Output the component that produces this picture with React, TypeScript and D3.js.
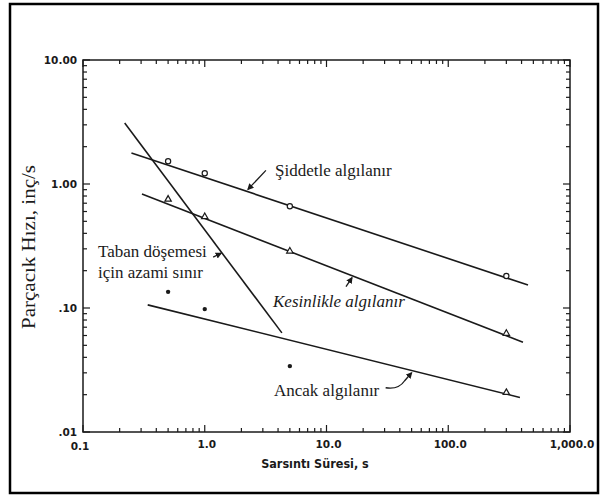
import React from 'react';
import * as d3 from 'd3';

const W = 608;
const H = 497;

// duration (s) of the measured points
const durations = [0.5, 1, 5, 300];

// "Şiddetle algılanır" – fitted line end points and measured points
const strongLineX = [0.25, 452];
const strongLineY = [1.78, 0.153];
const strongPts = [1.5, 1.2, 0.65, 0.178];

// "Kesinlikle algılanır"
const definiteLineX = [0.305, 411];
const definiteLineY = [0.83, 0.053];
const definitePts = [0.76, 0.55, 0.29, 0.063];

// "Ancak algılanır"
const barelyLineX = [0.34, 388];
const barelyLineY = [0.106, 0.019];
const barelyDotX = [0.5, 1, 5];
const barelyDots = [0.135, 0.098, 0.034];
const barelyTriX = [300];
const barelyTri = [0.021];

// "Taban döşemesi için azami sınır"
const floorLineX = [0.22, 4.3];
const floorLineY = [3.1, 0.063];

const xTickLabels = ['0.1', '1.0', '10.0', '100.0', '1,000.0'];
const yTickLabels = ['.01', '.10', '1.00', '10.00'];

const serif = "'Liberation Serif', 'Times New Roman', serif";
const sans = "'DejaVu Sans', sans-serif";
const ink = '#1a1a1a';

export default function App() {
  const x = d3.scaleLog().domain([0.1, 1000]).range([83, 570]);
  const y = d3.scaleLog().domain([0.01, 10]).range([432, 60]);

  const line = d3.line<[number, number]>().x(d => x(d[0])).y(d => y(d[1]));
  const seg = (xs: number[], ys: number[]) => line(xs.map((v, i) => [v, ys[i]]) as [number, number][]) || '';

  // point on a straight (log-log) line at duration t
  const onLine = (xs: number[], ys: number[], t: number) => {
    const f = (Math.log10(t) - Math.log10(xs[0])) / (Math.log10(xs[1]) - Math.log10(xs[0]));
    const ly = Math.log10(ys[0]) + f * (Math.log10(ys[1]) - Math.log10(ys[0]));
    return [x(t), y(Math.pow(10, ly))];
  };

  const xTicks = x.ticks();
  const yTicks = y.ticks();
  const isMajor = (v: number) => Math.abs(Math.log10(v) - Math.round(Math.log10(v))) < 1e-6;
  const majors = [0.1, 1, 10, 100, 1000];
  const yMajors = [0.01, 0.1, 1, 10];

  const [x0, x1] = x.range();
  const [y0, y1] = y.range();

  const tri = (cx: number, cy: number) => {
    const s = 3.2;
    return `M${cx},${cy - s} L${cx + s},${cy + s * 0.75} L${cx - s},${cy + s * 0.75} Z`;
  };

  const sidA = onLine(strongLineX, strongLineY, 2.22);
  const kesA = onLine(definiteLineX, definiteLineY, 16.2);
  const ancA = onLine(barelyLineX, barelyLineY, 51);
  const tabA = onLine(floorLineX, floorLineY, 1.39);

  return (
    <div style={{ position: 'fixed', left: 0, top: 0 }}>
      <svg width={W} height={H} style={{ display: 'block', background: '#fff' }}>
        <defs>
          <marker id="ah" viewBox="0 0 6 6" refX="5" refY="3" markerWidth="5" markerHeight="5" orient="auto">
            <path d="M0,0 L6,3 L0,6 Z" fill={ink} />
          </marker>
        </defs>
        <rect x={10} y={4} width={588} height={489} fill="#fff" stroke="#000" strokeWidth={2.5} />

        {/* frame */}
        <rect x={x0} y={y1} width={x1 - x0} height={y0 - y1} fill="none" stroke={ink} strokeWidth={1.5} />

        {/* ticks on all four sides, pointing inward */}
        {xTicks.map((t, i) => {
          const len = isMajor(t) ? 7 : 4;
          return (
            <g key={'xt' + i} stroke={ink} strokeWidth={1.2}>
              <line x1={x(t)} x2={x(t)} y1={y0} y2={y0 - len} />
              <line x1={x(t)} x2={x(t)} y1={y1} y2={y1 + len} />
            </g>
          );
        })}
        {yTicks.map((t, i) => {
          const len = isMajor(t) ? 7 : 4;
          return (
            <g key={'yt' + i} stroke={ink} strokeWidth={1.2}>
              <line x1={x0} x2={x0 + len} y1={y(t)} y2={y(t)} />
              <line x1={x1} x2={x1 - len} y1={y(t)} y2={y(t)} />
            </g>
          );
        })}

        {/* tick labels */}
        {majors.map((t, i) => (
          <text key={'xl' + i} x={i === 0 ? x(t) - 3 : x(t) + 2} y={i === 0 ? 450 : 448} textAnchor="middle"
            fontFamily={sans} fontWeight="bold" fontSize={10.5} fill={ink}>{xTickLabels[i]}</text>
        ))}
        {yMajors.map((t, i) => (
          <text key={'yl' + i} x={77} y={y(t) + 4} textAnchor="end"
            fontFamily={sans} fontWeight="bold" fontSize={10.5} fill={ink}>{yTickLabels[i]}</text>
        ))}

        {/* axis titles */}
        <text x={315} y={468} textAnchor="middle" fontFamily="'DejaVu Sans Condensed', 'DejaVu Sans', sans-serif"
          fontStretch="condensed" fontWeight="bold" fontSize={12.5} fill={ink}>Sarsıntı Süresi, s</text>
        <text transform="translate(35,247) rotate(-90)" textAnchor="middle" fontFamily={serif}
          fontSize={18} textLength={164} lengthAdjust="spacingAndGlyphs" fill={ink}>Parçacık Hızı, inç/s</text>

        {/* fitted lines */}
        <g fill="none" stroke={ink} strokeWidth={1.6}>
          <path d={seg(strongLineX, strongLineY)} />
          <path d={seg(definiteLineX, definiteLineY)} />
          <path d={seg(barelyLineX, barelyLineY)} />
          <path d={seg(floorLineX, floorLineY)} />
        </g>

        {/* measured points */}
        {durations.map((d, i) => (
          <circle key={'sp' + i} cx={x(d)} cy={y(strongPts[i]) - 1} r={2.6} fill="#fff" stroke={ink} strokeWidth={1.2} />
        ))}
        {durations.map((d, i) => (
          <path key={'dp' + i} d={tri(x(d), y(definitePts[i]))} fill="#fff" stroke={ink} strokeWidth={1.2} />
        ))}
        {barelyTriX.map((d, i) => (
          <path key={'bt' + i} d={tri(x(d), y(barelyTri[i]))} fill="#fff" stroke={ink} strokeWidth={1.2} />
        ))}
        {barelyDotX.map((d, i) => (
          <circle key={'bd' + i} cx={x(d)} cy={y(barelyDots[i])} r={2.2} fill={ink} />
        ))}

        {/* annotations */}
        <g fontFamily={serif} fontSize={17} fill={ink}>
          <text x={275} y={176}>Şiddetle algılanır</text>
          <text x={273} y={307} fontStyle="italic">Kesinlikle algılanır</text>
          <text x={274} y={396}>Ancak algılanır</text>
          <text x={98} y={257}>Taban döşemesi</text>
          <text x={98} y={278}>için azami sınır</text>
        </g>
        <g fill="none" stroke={ink} strokeWidth={1.3}>
          <path d={`M${sidA[0] + 19},${sidA[1] - 21} L${sidA[0] + 1},${sidA[1] - 2}`} markerEnd="url(#ah)" />
          <path d={`M${kesA[0] - 6},${kesA[1] + 11} L${kesA[0]},${kesA[1] + 2}`} markerEnd="url(#ah)" />
          <path d={`M${ancA[0] - 27},${ancA[1] + 17} Q${ancA[0] - 14},${ancA[1] + 19} ${ancA[0] - 8},${ancA[1] + 10} L${ancA[0] - 1},${ancA[1] + 2}`} markerEnd="url(#ah)" />
          <path d={`M${tabA[0] - 9},${tabA[1] + 4} L${tabA[0] - 1},${tabA[1]}`} markerEnd="url(#ah)" />
        </g>
      </svg>
    </div>
  );
}
